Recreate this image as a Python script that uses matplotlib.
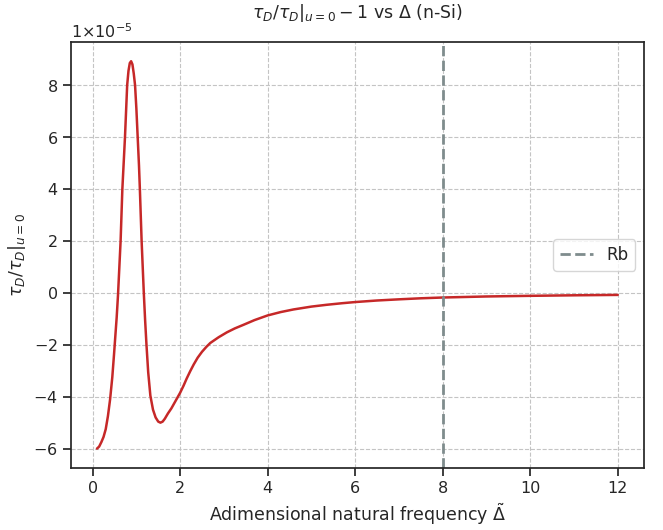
import matplotlib
matplotlib.use("Agg")
import matplotlib.pyplot as plt
import matplotlib.ticker as mticker
import seaborn as sns
import numpy as np

# Data (y in units of 1e-5)
delta = [0.10, 0.15, 0.20, 0.25, 0.30, 0.35, 0.40, 0.45, 0.49, 0.52, 0.55, 0.58,
         0.61, 0.64, 0.68, 0.71, 0.74, 0.77, 0.79, 0.82, 0.85, 0.88, 0.91, 0.94,
         0.97, 1.00, 1.03, 1.06, 1.08, 1.10, 1.12, 1.145, 1.17, 1.20, 1.23, 1.27,
         1.32, 1.38, 1.44, 1.50, 1.55, 1.60, 1.65, 1.72, 1.80, 1.90, 2.00, 2.08,
         2.15, 2.23, 2.31, 2.40, 2.50, 2.60, 2.69, 2.88, 3.07, 3.25, 3.45, 3.70,
         4.00, 4.30, 4.59, 5.00, 5.35, 5.70, 6.00, 6.50, 7.00, 7.50, 8.00, 9.00,
         10.00, 11.00, 12.00]
ratio_e5 = [-6.00, -5.92, -5.75, -5.55, -5.25, -4.75, -4.10, -3.25, -2.36, -1.65, -0.95, -0.10,
            0.95, 2.00, 4.00, 5.00, 6.00, 7.20, 8.00, 8.55, 8.85, 8.92, 8.80, 8.45,
            8.00, 7.10, 6.00, 4.90, 4.00, 3.00, 2.00, 1.00, 0.00, -1.05, -1.97, -3.05,
            -3.96, -4.50, -4.80, -4.96, -5.00, -4.96, -4.85, -4.65, -4.45, -4.15, -3.85, -3.57,
            -3.30, -3.02, -2.76, -2.50, -2.27, -2.08, -1.93, -1.71, -1.52, -1.37, -1.23, -1.05,
            -0.87, -0.74, -0.64, -0.53, -0.46, -0.40, -0.355, -0.295, -0.25, -0.21, -0.18, -0.14,
            -0.115, -0.095, -0.08]
rb_position = 8.0
rb_label = "Rb"


class OneTimesFormatter(mticker.ScalarFormatter):
    def get_offset(self):
        s = super().get_offset()
        if s.startswith('$\\times'):
            s = '$1{\\times}' + s[7:]
        return s


sns.set_theme(style="ticks")
plt.rcParams['font.family'] = ['DejaVu Sans']

fig = plt.figure(figsize=(6.63, 5.30), dpi=100)
ax = fig.add_axes([0.107, 0.117, 0.864, 0.804])

y = np.array(ratio_e5) * 1e-5
ax.plot(delta, y, color='#c62828', lw=1.8)
ax.axvline(rb_position, color='#7f8c8d', ls='--', lw=2, label=rb_label)

ax.grid(True, linestyle='--', color='#c4c4c4', linewidth=0.8)
fmt = OneTimesFormatter(useMathText=True)
fmt.set_powerlimits((0, 0))
ax.yaxis.set_major_formatter(fmt)
ax.set_yticks(np.arange(-6, 9, 2) * 1e-5)
ax.set_xticks([0, 2, 4, 6, 8, 10, 12])
ax.tick_params(labelsize=11.5)
ax.yaxis.get_offset_text().set_fontsize(11.5)

ax.set_title(r"$\tau_D/\tau_D|_{u=0} - 1$ vs $\Delta$ (n-Si)", fontsize=12.5, pad=17)
ax.set_xlabel(r"Adimensional natural frequency $\tilde{\Delta}$", fontsize=12.5)
ax.set_ylabel(r"$\tau_D/\tau_D|_{u=0}$", fontsize=12.5)
ax.legend(loc='center right', fontsize=12)

fig.savefig("out.png", dpi=100)
